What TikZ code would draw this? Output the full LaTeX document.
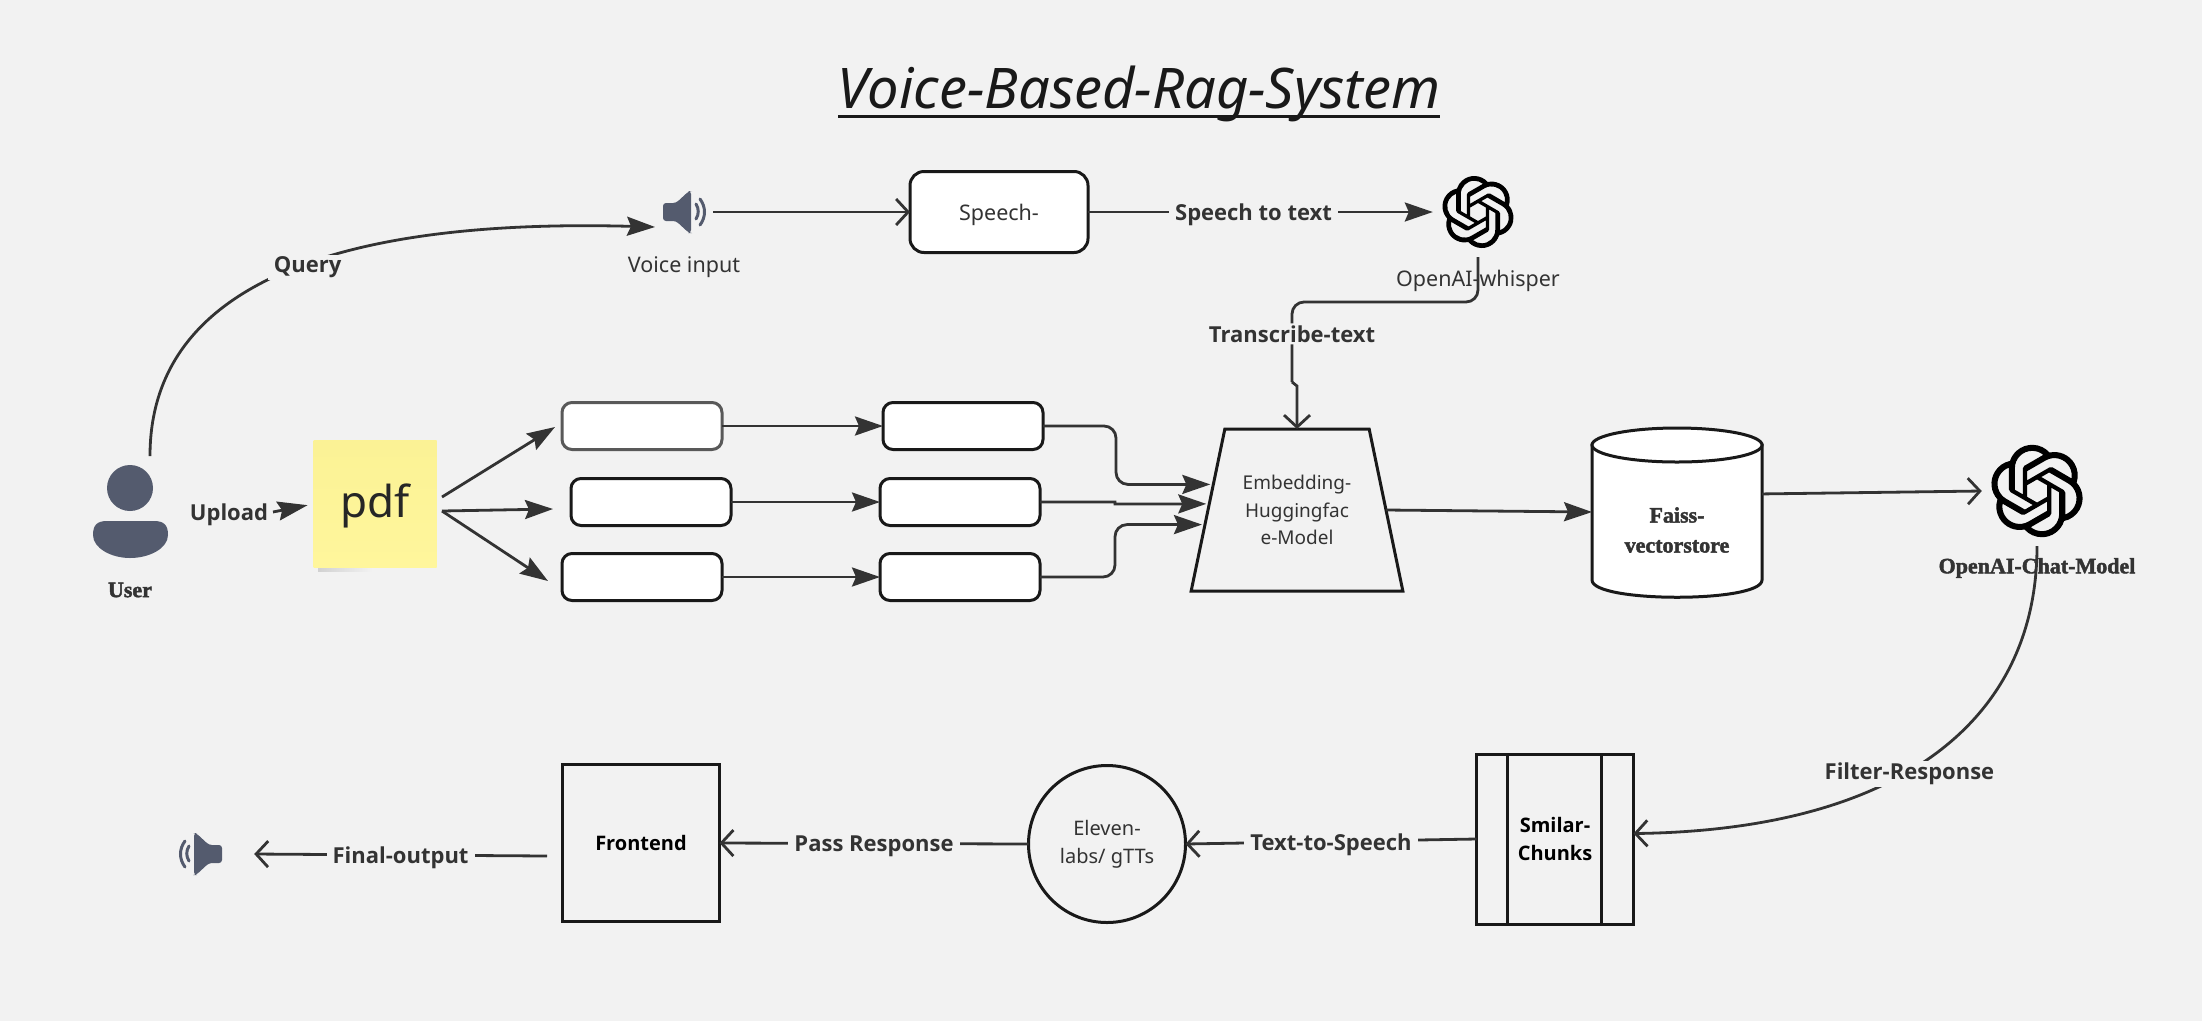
\documentclass[tikz,border=0pt]{standalone}
\usepackage{fontspec}
\setmainfont{Noto Sans}
\newfontfamily\lblfont{Open Sans}
\newfontfamily\fatfont[FakeBold=2]{Liberation Serif Bold}
\usetikzlibrary{arrows.meta,shapes.geometric,svg.path}
\definecolor{bgc}{HTML}{F2F2F2}
\definecolor{inkc}{HTML}{333333}
\definecolor{iconc}{HTML}{545B6E}
\tikzset{
    knot/.pic={\fill[black, even odd rule, yscale=-1, shift={(-12pt,-12pt)}] svg {M 22.2819 9.8211 a 5.9847 5.9847 0 0 0 -0.5157 -4.9108 a 6.0462 6.0462 0 0 0 -6.5098 -2.9 A 6.0651 6.0651 0 0 0 4.9807 4.1818 a 5.9847 5.9847 0 0 0 -3.9977 2.9 a 6.0462 6.0462 0 0 0 0.7427 7.0966 a 5.98 5.98 0 0 0 0.511 4.9107 a 6.051 6.051 0 0 0 6.5146 2.9001 A 5.9847 5.9847 0 0 0 13.2599 24 a 6.0557 6.0557 0 0 0 5.7718 -4.2058 a 5.9894 5.9894 0 0 0 3.9977 -2.9001 a 6.0557 6.0557 0 0 0 -0.7475 -7.0729 z M 13.2599 22.4292 a 4.4755 4.4755 0 0 1 -2.8764 -1.0408 l 0.1419 -0.0804 l 4.7783 -2.7582 a 0.7948 0.7948 0 0 0 0.3927 -0.6813 v -6.7369 l 2.02 1.1686 a 0.071 0.071 0 0 1 0.038 0.052 v 5.5826 a 4.504 4.504 0 0 1 -4.4945 4.4944 z M 3.5992 18.3038 a 4.4708 4.4708 0 0 1 -0.5346 -3.0137 l 0.142 0.0852 l 4.783 2.7582 a 0.7712 0.7712 0 0 0 0.7806 0 l 5.8428 -3.3685 v 2.3324 a 0.0804 0.0804 0 0 1 -0.0332 0.0615 L 9.74 19.9502 a 4.4992 4.4992 0 0 1 -6.1408 -1.6464 z M 2.3408 7.8956 a 4.485 4.485 0 0 1 2.3655 -1.9728 V 11.6 a 0.7664 0.7664 0 0 0 0.3879 0.6765 l 5.8144 3.3543 l -2.0201 1.1685 a 0.0757 0.0757 0 0 1 -0.071 0 l -4.8303 -2.7865 A 4.504 4.504 0 0 1 2.3408 7.872 z M 18.9371 11.7514 L 13.1038 8.364 L 15.1192 7.2 a 0.0757 0.0757 0 0 1 0.071 0 l 4.8303 2.7913 a 4.4944 4.4944 0 0 1 -0.6765 8.1042 v -5.6772 a 0.79 0.79 0 0 0 -0.407 -0.667 z M 20.9478 8.7283 l -0.142 -0.0852 l -4.7735 -2.7818 a 0.7759 0.7759 0 0 0 -0.7854 0 L 9.409 9.2297 V 6.8974 a 0.0662 0.0662 0 0 1 0.0284 -0.0615 l 4.8303 -2.7866 a 4.4992 4.4992 0 0 1 6.6802 4.66 z M 8.3065 12.863 l -2.02 -1.1638 a 0.0804 0.0804 0 0 1 -0.038 -0.0567 V 6.0742 a 4.4992 4.4992 0 0 1 7.3757 -3.4537 l -0.142 0.0805 L 8.704 5.459 a 0.7948 0.7948 0 0 0 -0.3927 0.6813 z M 9.4041 10.4976 l 2.602 -1.4998 l 2.6069 1.4998 v 2.9994 l -2.5974 1.4997 l -2.6067 -1.4997 z};},
    speaker/.pic={
        \fill[iconc, rounded corners=3] (-21,-9) -- (-8,-9) -- (5,-21) -- (7,-21) -- (7,21) -- (5,21) -- (-8,9) -- (-21,9) -- cycle;
        \draw[iconc, line width=3, line cap=round] (12,-8) .. controls (15,-3) and (15,2) .. (12,7);
        \draw[iconc, line width=3, line cap=round] (16,-13) .. controls (22,-5) and (22,5) .. (16,13);
    },
    lbl/.style={fill=bgc, text=inkc, font=\fontsize{22}{26}\lblfont\bfseries, inner xsep=6, inner ysep=2, yshift=-3pt},
    txt/.style={text=inkc, font=\fontsize{21.5}{26}\selectfont, align=center, inner sep=0},
    fat/.style={text=inkc, font=\fontsize{22}{26}\fatfont, align=center, inner sep=0},
    hole/.style={minimum size=#1, inner sep=0},
    round/.style={draw=black!90, fill=white, line width=3, rounded corners=10, minimum width=160, minimum height=47, inner sep=0, outer sep=0},
    frame/.style={draw=black!90, line width=3, inner sep=0, outer sep=0, align=center},
    lnk/.style={draw=inkc, line width=2.8},
    solid head/.style={-{Stealth[length=28pt, width=19pt, inset=4pt]}},
    open head/.style={-{Straight Barb[length=12pt, width=26pt, line width=2.8pt]}},
}
\begin{document}
\begin{tikzpicture}[x=1pt, y=-1pt]
    \useasboundingbox (0,0) rectangle (2202,1021);
    \fill[bgc] (0,0) rectangle (2202,1021);
    % title
    \node[text=black!90, inner sep=0, font=\fontsize{56}{64}\selectfont\itshape] (title) at (1139,94) {Voice-Based-Rag-System};
    \draw[black!90, line width=3] (838,116) -- (1440,116);
    % top row
    \node[hole=58] (voice) at (684,212) {};
    \pic at (voice) {speaker};
    \node[txt] (voicetxt) at (684,267) {Voice input};
    \node[round, minimum width=178, minimum height=81, rounded corners=14] (speech) at (999,212) {};
    \node[txt] (speechtxt) at (999,215) {Speech-};
    \node[hole=90] (whisper) at (1478,212) {};
    \pic[scale=3] at (whisper) {knot};
    \node[txt] (whispertxt) at (1478,281) {OpenAI-whisper};
    % user and pdf
    \node[hole=80] (user) at (130,525) {};
    \fill[iconc] (user.center) ++(0,-37) circle (23);
    \fill[iconc] (93,535) .. controls (93,525) and (97,521) .. (107,521) -- (154,521) .. controls (164,521) and (168,525) .. (168,535) .. controls (168,548) and (150,558) .. (130,558) .. controls (111,558) and (93,548) .. (93,535) -- cycle;
    \node[fat] (usertxt) at (130,590) {User};
    \fill[left color=black!18, right color=bgc] (318,568) rectangle (372,571);
    \node[top color={rgb,255:red,251;green,242;blue,149}, bottom color={rgb,255:red,255;green,246;blue,156}, minimum width=123, minimum height=127, inner sep=0, outer sep=0] (pdf) at (375,504) {};
    \node[inner sep=0, text=black!85, font=\fontsize{44}{50}\selectfont] (pdftxt) at (375,506) {pdf};
    % chunks and their embeddings
    \node[round, draw=black!65] (chunka) at (642,426) {};
    \node[round] (chunkb) at (651,502) {};
    \node[round] (chunkc) at (642,577) {};
    \node[round] (veca) at (963,426) {};
    \node[round] (vecb) at (960,502) {};
    \node[round] (vecc) at (960,577) {};
    \node[trapezium, trapezium stretches=true, trapezium left angle=70, trapezium right angle=70, minimum width=212, minimum height=162, frame, text=inkc, font=\fontsize{19}{27.5}\selectfont] (embed) at (1297,510) {Embedding-\\Huggingfac\\e-Model};
    \node[minimum width=170, minimum height=169, inner sep=0, outer sep=0] (faiss) at (1677,512) {};
    \draw[black!90, fill=white, line width=3] (1592,445) -- (1592,580) .. controls (1592,603) and (1762,603) .. (1762,580) -- (1762,445) -- cycle;
    \draw[black!90, fill=white, line width=3] (1677,445) ellipse [x radius=85, y radius=17];
    \node[fat, font=\fontsize{22}{30}\fatfont] (faisstxt) at (1677,530) {Faiss-\\vectorstore};
    \node[hole=110] (chat) at (2037,491) {};
    \pic[scale=3.85] at (chat) {knot};
    \node[fat] (chattxt) at (2037,568) {OpenAI-Chat-Model};
    % bottom row
    \node[frame, minimum width=157, minimum height=170, font=\fontsize{20}{28}\lblfont\bfseries] (chunks) at (1555,839) {Smilar-\\Chunks};
    \draw[black!90, line width=3] ([xshift=31]chunks.north west) -- ([xshift=31]chunks.south west);
    \draw[black!90, line width=3] ([xshift=-32]chunks.north east) -- ([xshift=-32]chunks.south east);
    \node[circle, frame, minimum size=157, font=\fontsize{20}{28}\selectfont, text=inkc] (tts) at (1107,844) {Eleven-\\labs/ gTTs};
    \node[frame, minimum size=157, font=\fontsize{20}{28}\lblfont\bfseries] (front) at (641,843) {Frontend};
    \node[hole=106] (out) at (201,854) {};
    \pic[xscale=-1] at (out) {speaker};
    % free ends of the connectors
    \coordinate (querya) at (150,456);
    \coordinate (queryb) at (655,227);
    \coordinate (tbend) at (1292,302);
    \coordinate (tjoga) at (1292,382);
    \coordinate (tjogb) at (1297,386);
    \coordinate (pdfa) at (442,497);
    \coordinate (pdfb) at (442,511);
    \coordinate (tipa) at (555,427);
    \coordinate (tipb) at (553,509);
    \coordinate (tipc) at (548,581);
    \coordinate (uploada) at (273,512);
    \coordinate (finala) at (547,856);
    % connectors
    \draw[lnk, solid head] (querya) .. controls (150,288) and (330,218) .. node[lbl, pos=0.55] {Query} (queryb);
    \draw[lnk, open head] (voice.east) -- (speech.west);
    \draw[lnk, solid head] (speech.east) -- node[lbl, pos=0.48] {Speech to text} (whisper.west);
    \draw[lnk, rounded corners=12] (whisper.south) |- (tbend) -- node[lbl, pos=0.36] {Transcribe-text} (tjoga);
    \draw[lnk, open head] (tjoga) -- (tjogb) -- (embed.north);
    \draw[lnk, -{Stealth[length=30pt, width=19pt, inset=4pt]}, shorten >=6pt] (uploada) -- (pdf.west);
    \node[lbl, fill=none] (upload) at (229,512) {Upload};
    \draw[lnk, solid head] (pdfa) -- (tipa);
    \draw[lnk, solid head] (pdfb) -- (tipb);
    \draw[lnk, solid head] (pdfb) -- (tipc);
    \draw[lnk, solid head] (chunka) -- (veca);
    \draw[lnk, solid head] (chunkb) -- (vecb);
    \draw[lnk, solid head] (chunkc) -- (vecc);
    \draw[lnk, solid head, rounded corners=12, shorten >=3pt] (veca.east) -- ++(73,0) |- (embed.163);
    \draw[lnk, solid head, shorten >=3pt] (vecb.east) -- ++(75,0) -- ++(0,2) -- (embed.176);
    \draw[lnk, solid head, rounded corners=12, shorten >=3pt] (vecc.east) -- ++(75,0) |- (embed.189);
    \draw[lnk, solid head] (embed.east) -- (faiss.west);
    \draw[lnk, open head] (faiss.12) -- (chat.west);
    \draw[lnk, open head] (chat.south) .. controls (2037,720) and (1900,830) .. node[lbl, pos=0.56] {Filter-Response} (chunks.4);
    \draw[lnk, open head] (chunks.west) -- node[lbl] {Text-to-Speech} (tts.east);
    \draw[lnk, open head] (tts.west) -- node[lbl] {Pass Response} (front.east);
    \draw[lnk, open head] (finala) -- node[lbl] {Final-output} (out.east);
\end{tikzpicture}
\end{document}
